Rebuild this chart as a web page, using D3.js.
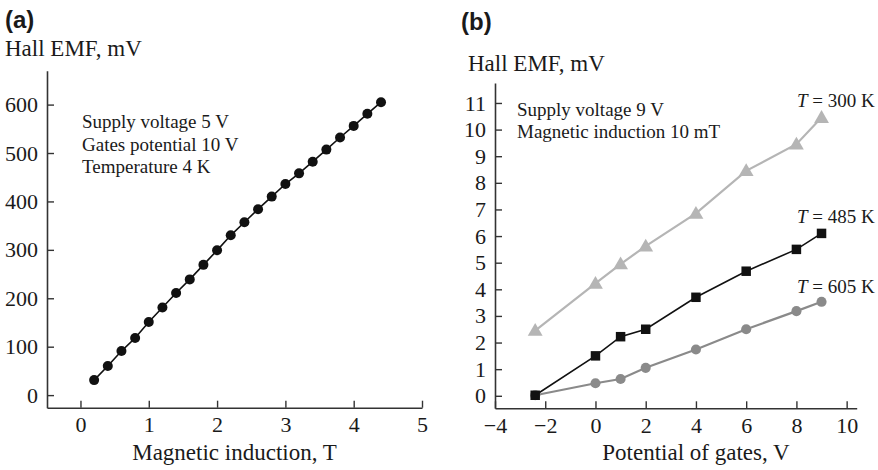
<!DOCTYPE html>
<html>
<head>
<meta charset="utf-8">
<script src="https://cdn.jsdelivr.net/npm/d3@7"></script>
<style>
  html, body { margin: 0; padding: 0; background: #fff; }
  svg text { font-family: "Liberation Serif", "Times New Roman", serif; fill: #1a1a1a; }
  .panel-tag { font-family: "Liberation Sans", Arial, sans-serif !important; font-weight: bold; }
</style>
</head>
<body>
<svg id="chart" width="878" height="470"></svg>
<script>
// ---------- Data: panel (a) ----------
const inductionT = [0.2, 0.4, 0.6, 0.8, 1.0, 1.2, 1.4, 1.6, 1.8, 2.0, 2.2, 2.4, 2.6, 2.8, 3.0, 3.2, 3.4, 3.6, 3.8, 4.0, 4.2, 4.4];
const hallEmfA   = [31, 60, 91, 118, 151, 181, 211, 239, 269, 299, 330, 357, 384, 410, 436, 458, 482, 507, 532, 556, 581, 605];
const xTicksA = [0, 1, 2, 3, 4, 5];
const yTicksA = [0, 100, 200, 300, 400, 500, 600];
const notesA = ["Supply voltage 5 V", "Gates potential 10 V", "Temperature 4 K"];

// ---------- Data: panel (b) ----------
const gatePotential = [-2.4, 0, 1, 2, 4, 6, 8, 9];
const emf300K = [2.45, 4.22, 4.95, 5.62, 6.85, 8.45, 9.45, 10.45];
const emf485K = [0.02, 1.5, 2.22, 2.5, 3.7, 4.68, 5.5, 6.1];
const emf605K = [0.02, 0.47, 0.63, 1.05, 1.74, 2.5, 3.18, 3.53];
const seriesLabels = ["300 K", "485 K", "605 K"];
const xTicksB = [-4, -2, 0, 2, 4, 6, 8, 10];
const yTicksB = [0, 1, 2, 3, 4, 5, 6, 7, 8, 9, 10, 11];
const notesB = ["Supply voltage 9 V", "Magnetic induction 10 mT"];

const svg = d3.select("#chart");
const axisColor = "#333";

function styleAxis(g) {
  g.select(".domain").attr("stroke", axisColor).attr("stroke-width", 1.6);
  g.selectAll(".tick line").attr("stroke", axisColor).attr("stroke-width", 1.4);
  g.selectAll(".tick text").attr("font-size", 22).attr("fill", "#1a1a1a")
    .attr("font-family", "'Liberation Serif', 'Times New Roman', serif");
}

// ================= Panel (a) =================
const xA = d3.scaleLinear().domain([-0.49, 5.0]).range([47, 422]);
const yA = d3.scaleLinear().domain([-26, 670]).range([407.7, 70.7]);

svg.append("g")
  .attr("transform", `translate(0,${yA.range()[0]})`)
  .call(d3.axisBottom(xA).tickValues(xTicksA).tickFormat(d3.format("d"))
        .tickSizeInner(-7).tickSizeOuter(0).tickPadding(9))
  .call(styleAxis);

svg.append("g")
  .attr("transform", `translate(${xA.range()[0]},0)`)
  .call(d3.axisLeft(yA).tickValues(yTicksA).tickFormat(d3.format("d"))
        .tickSizeInner(-7).tickSizeOuter(0).tickPadding(9))
  .call(styleAxis);

const dataA = inductionT.map((x, i) => ({x, y: hallEmfA[i]}));
svg.append("path").datum(dataA)
  .attr("fill", "none").attr("stroke", "#111").attr("stroke-width", 1.6)
  .attr("d", d3.line().x(d => xA(d.x)).y(d => yA(d.y)));
svg.append("g").selectAll("circle").data(dataA).join("circle")
  .attr("cx", d => xA(d.x)).attr("cy", d => yA(d.y)).attr("r", 5)
  .attr("fill", "#111");

svg.append("text").attr("class", "panel-tag").attr("x", 5).attr("y", 28)
  .attr("font-size", 24).text("(a)");
svg.append("text").attr("x", 5).attr("y", 56).attr("font-size", 23).text("Hall EMF, mV");
svg.append("text").attr("x", (xA.range()[0] + xA.range()[1]) / 2 + 0).attr("y", 460)
  .attr("text-anchor", "middle").attr("font-size", 23).text("Magnetic induction, T");
svg.append("g").selectAll("text").data(notesA).join("text")
  .attr("x", 82).attr("y", (d, i) => 128 + i * 22.5)
  .attr("font-size", 19).text(d => d);

// ================= Panel (b) =================
const xB = d3.scaleLinear().domain([-4, 10.4]).range([495, 856.7]);
const yB = d3.scaleLinear().domain([-0.47, 11.75]).range([408.3, 83]);

svg.append("g")
  .attr("transform", `translate(0,${yB.range()[0]})`)
  .call(d3.axisBottom(xB).tickValues(xTicksB).tickFormat(d3.format("d"))
        .tickSizeInner(-7).tickSizeOuter(0).tickPadding(9))
  .call(styleAxis);

svg.append("g")
  .attr("transform", `translate(${xB.range()[0]},0)`)
  .call(d3.axisLeft(yB).tickValues(yTicksB).tickFormat(d3.format("d"))
        .tickSizeInner(-7).tickSizeOuter(0).tickPadding(9))
  .call(styleAxis);

const seriesB = [
  {label: seriesLabels[0], values: emf300K, color: "#b5b5b5", width: 2.2, symbol: d3.symbolTriangle, size: 95, labelY: 10.45},
  {label: seriesLabels[1], values: emf485K, color: "#111111", width: 1.6, symbol: d3.symbolSquare, size: 90, labelY: 6.1},
  {label: seriesLabels[2], values: emf605K, color: "#8a8a8a", width: 2.2, symbol: d3.symbolCircle, size: 80, labelY: 3.53}
];
const labelOffsets = [10.5, 10.5, 8.5];

const lineB = d3.line().x(d => xB(d.x)).y(d => yB(d.y));
// draw in order: 300K, 605K, 485K so black on top where they meet
[0, 2, 1].forEach(k => {
  const s = seriesB[k];
  const pts = gatePotential.map((x, i) => ({x, y: s.values[i]}));
  const g = svg.append("g");
  g.append("path").datum(pts).attr("fill", "none")
    .attr("stroke", s.color).attr("stroke-width", s.width)
    .attr("d", lineB);
  g.selectAll("path.m").data(pts).join("path").attr("class", "m")
    .attr("transform", d => `translate(${xB(d.x)},${yB(d.y) + (s.symbol === d3.symbolTriangle ? 1 : 0)})`)
    .attr("d", d3.symbol().type(s.symbol).size(s.size))
    .attr("fill", s.color);
});

seriesB.forEach((s, k) => {
  const t = svg.append("text").attr("x", 797).attr("y", yB(s.labelY) - labelOffsets[k])
    .attr("font-size", 19);
  t.append("tspan").attr("font-style", "italic").text("T");
  t.append("tspan").text(" = " + s.label);
});

svg.append("text").attr("class", "panel-tag").attr("x", 461).attr("y", 30)
  .attr("font-size", 24).text("(b)");
svg.append("text").attr("x", 468).attr("y", 71).attr("font-size", 23).text("Hall EMF, mV");
svg.append("text").attr("x", 696).attr("y", 460)
  .attr("text-anchor", "middle").attr("font-size", 23).text("Potential of gates, V");
svg.append("g").selectAll("text").data(notesB).join("text")
  .attr("x", 517).attr("y", (d, i) => 115.5 + i * 22.5)
  .attr("font-size", 19).text(d => d);
</script>
</body>
</html>
